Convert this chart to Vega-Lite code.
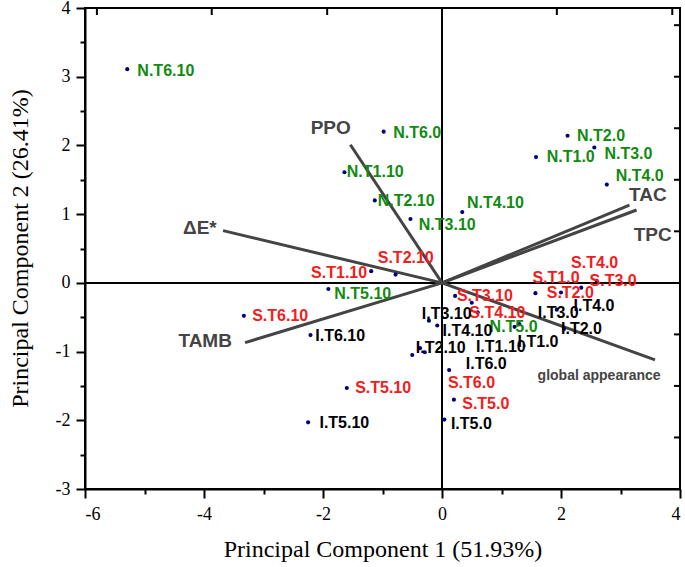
{
  "$schema": "https://vega.github.io/schema/vega-lite/v6.json",
  "width": 595,
  "height": 481,
  "autosize": {"type": "none"},
  "padding": {"left": 85, "top": 8, "right": 5, "bottom": 78},
  "background": "white",
  "config": {
    "view": {"stroke": "black", "strokeWidth": 2},
    "axis": {
      "grid": false,
      "domainColor": "black",
      "domainWidth": 2,
      "tickColor": "black",
      "tickWidth": 2,
      "labelFont": "Liberation Serif",
      "labelFontSize": 18,
      "labelColor": "black",
      "titleFont": "Liberation Serif",
      "titleFontSize": 24,
      "titleFontWeight": "normal",
      "titleColor": "black"
    }
  },
  "resolve": {"axis": {"x": "independent", "y": "independent"}},
  "datasets": {
    "samples": [
      {"name": "N.T6.10", "group": "N", "x": -5.29, "y": 3.11, "lx": -5.12, "ly": 3.09},
      {"name": "N.T6.0", "group": "N", "x": -0.98, "y": 2.20, "lx": -0.82, "ly": 2.18},
      {"name": "N.T1.10", "group": "N", "x": -1.64, "y": 1.61, "lx": -1.60, "ly": 1.61},
      {"name": "N.T2.10", "group": "N", "x": -1.13, "y": 1.20, "lx": -1.08, "ly": 1.19},
      {"name": "N.T3.10", "group": "N", "x": -0.53, "y": 0.93, "lx": -0.39, "ly": 0.84},
      {"name": "N.T4.10", "group": "N", "x": 0.34, "y": 1.03, "lx": 0.42, "ly": 1.16},
      {"name": "N.T2.0", "group": "N", "x": 2.11, "y": 2.14, "lx": 2.27, "ly": 2.13},
      {"name": "N.T3.0", "group": "N", "x": 2.56, "y": 1.97, "lx": 2.73, "ly": 1.88},
      {"name": "N.T1.0", "group": "N", "x": 1.58, "y": 1.83, "lx": 1.76, "ly": 1.83},
      {"name": "N.T4.0", "group": "N", "x": 2.77, "y": 1.43, "lx": 2.92, "ly": 1.56},
      {"name": "N.T5.10", "group": "N", "x": -1.91, "y": -0.09, "lx": -1.81, "ly": -0.16},
      {"name": "N.T5.0", "group": "N", "x": 1.22, "y": -0.64, "lx": 0.80, "ly": -0.64},
      {"name": "S.T6.10", "group": "S", "x": -3.33, "y": -0.48, "lx": -3.19, "ly": -0.48},
      {"name": "S.T1.10", "group": "S", "x": -1.19, "y": 0.17, "lx": -2.20, "ly": 0.15},
      {"name": "S.T2.10", "group": "S", "x": -0.78, "y": 0.12, "lx": -1.08, "ly": 0.36},
      {"name": "S.T3.10", "group": "S", "x": 0.22, "y": -0.19, "lx": 0.25, "ly": -0.19},
      {"name": "S.T4.10", "group": "S", "x": 0.50, "y": -0.29, "lx": 0.46, "ly": -0.44},
      {"name": "S.T1.0", "group": "S", "x": 1.57, "y": -0.15, "lx": 1.52, "ly": 0.07},
      {"name": "S.T2.0", "group": "S", "x": 2.00, "y": -0.14, "lx": 1.76, "ly": -0.15},
      {"name": "S.T3.0", "group": "S", "x": 2.34, "y": -0.07, "lx": 2.48, "ly": 0.03},
      {"name": "S.T4.0", "group": "S", "x": 2.60, "y": 0.03, "lx": 2.17, "ly": 0.29},
      {"name": "S.T5.10", "group": "S", "x": -1.60, "y": -1.53, "lx": -1.46, "ly": -1.53},
      {"name": "S.T6.0", "group": "S", "x": -0.37, "y": -0.95, "lx": 0.10, "ly": -1.46},
      {"name": "S.T5.0", "group": "S", "x": 0.20, "y": -1.70, "lx": 0.34, "ly": -1.76},
      {"name": "I.T6.10", "group": "I", "x": -2.21, "y": -0.76, "lx": -2.13, "ly": -0.78},
      {"name": "I.T5.10", "group": "I", "x": -2.25, "y": -2.03, "lx": -2.06, "ly": -2.04},
      {"name": "I.T3.10", "group": "I", "x": -0.22, "y": -0.55, "lx": -0.34, "ly": -0.45},
      {"name": "I.T4.10", "group": "I", "x": -0.08, "y": -0.62, "lx": 0.01, "ly": -0.70},
      {"name": "I.T2.10", "group": "I", "x": -0.50, "y": -1.05, "lx": -0.44, "ly": -0.95},
      {"name": "I.T1.10", "group": "I", "x": -0.29, "y": -1.01, "lx": 0.57, "ly": -0.94},
      {"name": "I.T1.0", "group": "I", "x": 1.30, "y": -0.60, "lx": 1.27, "ly": -0.86},
      {"name": "I.T6.0", "group": "I", "x": 0.12, "y": -1.27, "lx": 0.40, "ly": -1.18},
      {"name": "I.T5.0", "group": "I", "x": 0.04, "y": -1.99, "lx": 0.15, "ly": -2.06},
      {"name": "I.T3.0", "group": "I", "x": 1.93, "y": -0.39, "lx": 1.61, "ly": -0.44},
      {"name": "I.T4.0", "group": "I", "x": 0.60, "y": -0.43, "lx": 2.21, "ly": -0.34},
      {"name": "I.T2.0", "group": "I", "x": 2.05, "y": -0.67, "lx": 2.00, "ly": -0.67}
    ],
    "vectors": [
      {"name": "PPO", "ox": 0, "oy": 0, "x": -1.54, "y": 2.01, "lx": -1.87, "ly": 2.25},
      {"name": "ΔE*", "ox": 0, "oy": 0, "x": -3.68, "y": 0.76, "lx": -4.07, "ly": 0.80},
      {"name": "TAMB", "ox": 0, "oy": 0, "x": -3.31, "y": -0.87, "lx": -3.98, "ly": -0.85},
      {"name": "TAC", "ox": 0, "oy": 0, "x": 3.15, "y": 1.13, "lx": 3.46, "ly": 1.28},
      {"name": "TPC", "ox": 0, "oy": 0, "x": 3.27, "y": 1.06, "lx": 3.54, "ly": 0.70},
      {"name": "global appearance", "ox": 0, "oy": 0, "x": 3.58, "y": -1.12, "lx": 2.64, "ly": -1.35}
    ],
    "topTicks": [
      {"v": -5.8}, {"v": -3.87}, {"v": -1.93}, {"v": 1.93}, {"v": 3.87}
    ],
    "rightTicks": [
      {"v": -3}, {"v": -2.25}, {"v": -1.5}, {"v": -0.75}, {"v": 0.75}, {"v": 1.5}, {"v": 2.25}, {"v": 3}, {"v": 3.75}
    ]
  },
  "layer": [
    {
      "data": {"name": "vectors"},
      "mark": {"type": "rule", "color": "black", "strokeWidth": 1.5},
      "encoding": {
        "x": {"field": "ox", "type": "quantitative", "scale": {"domain": [-6, 4], "nice": false, "zero": false},
          "axis": {
            "orient": "bottom",
            "values": [-6, -5, -4, -3, -2, -1, 0, 1, 2, 3, 4],
            "labelExpr": "datum.value % 2 === 0 ? toString(datum.value) : ''",
            "tickSize": {"condition": {"test": "datum.value % 2 === 0", "value": 9}, "value": 5},
            "labelFont": "Liberation Serif",
            "labelFontSize": 18,
            "labelPadding": 7,
            "title": "Principal Component 1 (51.93%)",
            "titleY": 60,
            "titleBaseline": "middle"
          }
        }
      }
    },
    {
      "data": {"name": "vectors"},
      "mark": {"type": "rule", "color": "black", "strokeWidth": 1.5},
      "encoding": {
        "y": {"field": "oy", "type": "quantitative", "scale": {"domain": [-3, 4], "nice": false, "zero": false},
          "axis": {
            "orient": "left",
            "values": [-3, -2.5, -2, -1.5, -1, -0.5, 0, 0.5, 1, 1.5, 2, 2.5, 3, 3.5, 4],
            "labelExpr": "datum.value % 1 === 0 ? toString(datum.value) : ''",
            "tickSize": {"condition": {"test": "datum.value % 1 === 0", "value": 9}, "value": 5},
            "labelFont": "Liberation Serif",
            "labelFontSize": 18,
            "labelPadding": 6,
            "title": "Principal Component 2 (26.41%)",
            "titleX": -65,
            "titleY": 240,
            "titleBaseline": "middle",
            "titleAngle": -90
          }
        }
      }
    },
    {
      "data": {"name": "topTicks"},
      "mark": {"type": "tick", "orient": "vertical", "color": "black", "thickness": 2, "size": 14, "clip": true, "opacity": 1},
      "encoding": {
        "x": {"field": "v", "type": "quantitative", "axis": null},
        "y": {"datum": 4, "type": "quantitative", "axis": null}
      }
    },
    {
      "data": {"name": "rightTicks"},
      "mark": {"type": "tick", "orient": "horizontal", "color": "black", "thickness": 2, "size": 12, "clip": true, "opacity": 1},
      "encoding": {
        "x": {"datum": 4, "type": "quantitative", "axis": null},
        "y": {"field": "v", "type": "quantitative", "axis": null}
      }
    },
    {
      "data": {"name": "vectors"},
      "mark": {"type": "rule", "color": "#444444", "strokeWidth": 3},
      "encoding": {
        "x": {"field": "ox", "type": "quantitative", "axis": null},
        "y": {"field": "oy", "type": "quantitative", "axis": null},
        "x2": {"field": "x"},
        "y2": {"field": "y"}
      }
    },
    {
      "data": {"name": "vectors"},
      "mark": {"type": "text", "font": "Liberation Sans", "fontWeight": "bold", "color": "#444444", "align": "center", "baseline": "middle"},
      "encoding": {
        "x": {"field": "lx", "type": "quantitative", "axis": null},
        "y": {"field": "ly", "type": "quantitative", "axis": null},
        "text": {"field": "name"},
        "size": {"condition": {"test": "datum.name === 'global appearance'", "value": 14}, "value": 19}
      }
    },
    {
      "data": {"name": "samples"},
      "mark": {"type": "circle", "color": "#00007a", "opacity": 1, "size": 17},
      "encoding": {
        "x": {"field": "x", "type": "quantitative", "axis": null},
        "y": {"field": "y", "type": "quantitative", "axis": null}
      }
    },
    {
      "data": {"name": "samples"},
      "mark": {"type": "text", "font": "Liberation Sans", "fontWeight": "bold", "fontSize": 16, "align": "left", "baseline": "middle"},
      "encoding": {
        "x": {"field": "lx", "type": "quantitative", "axis": null},
        "y": {"field": "ly", "type": "quantitative", "axis": null},
        "text": {"field": "name"},
        "color": {"field": "group", "type": "nominal", "scale": {"domain": ["N", "S", "I"], "range": ["#128a12", "#f21c1c", "#000000"]}, "legend": null}
      }
    }
  ]
}
